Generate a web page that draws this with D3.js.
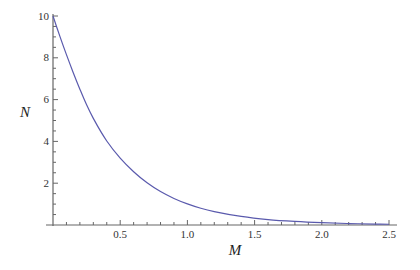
<!DOCTYPE html>
<html>
<head>
<meta charset="utf-8">
<script src="https://cdn.jsdelivr.net/npm/d3@7"></script>
<style>
  body { margin: 0; background: #fff; }
  svg { display: block; }
  text { font-family: "Liberation Serif", "DejaVu Serif", "Times New Roman", serif; }
</style>
</head>
<body>
<div id="chart"></div>
<script>
// values
const mValues = [0, 0.05, 0.1, 0.15, 0.2, 0.25, 0.3, 0.4, 0.5, 0.6, 0.7, 0.8, 0.9, 1.0, 1.1, 1.2, 1.4, 1.6, 1.8, 2.0, 2.2, 2.4, 2.5];
const nValues = [10, 9.05, 8.15, 7.3, 6.5, 5.75, 5.1, 4.02, 3.2, 2.55, 2.02, 1.6, 1.27, 1.01, 0.8, 0.64, 0.41, 0.26, 0.17, 0.11, 0.07, 0.045, 0.035];
const xTicks = [0.5, 1.0, 1.5, 2.0, 2.5];
const yTicks = [2, 4, 6, 8, 10];

const width = 420, height = 270;
const x0 = 53, x1 = 389, y0 = 225, y1 = 16;

const svg = d3.select("#chart")
  .append("svg")
  .attr("width", width)
  .attr("height", height);

const x = d3.scaleLinear().domain([0, 2.5]).range([x0, x1]);
const y = d3.scaleLinear().domain([0, 10]).range([y0, y1]);

const axisColor = "#666";

// x axis: ticks point up into the plot
const xAxis = svg.append("g")
  .attr("transform", "translate(0," + y0 + ")");
xAxis.append("line")
  .attr("x1", 46).attr("x2", 397)
  .attr("stroke", axisColor).attr("stroke-width", 1.2);
xAxis.selectAll(".minor")
  .data(d3.range(1, 26).map(i => i / 10))
  .enter().append("line")
    .attr("x1", d => x(d)).attr("x2", d => x(d))
    .attr("y1", 0)
    .attr("y2", d => xTicks.some(t => Math.abs(t - d) < 1e-6) ? -5 : -3)
    .attr("stroke", axisColor).attr("stroke-width", 1);
xAxis.selectAll(".lab")
  .data(xTicks)
  .enter().append("text")
    .attr("x", d => x(d))
    .attr("y", 13)
    .attr("text-anchor", "middle")
    .attr("font-size", 11)
    .attr("fill", "#333")
    .text(d => d3.format(".1f")(d));

// y axis: ticks point right into the plot
const yAxis = svg.append("g")
  .attr("transform", "translate(" + x0 + ",0)");
yAxis.append("line")
  .attr("y1", 226).attr("y2", 14)
  .attr("stroke", axisColor).attr("stroke-width", 1.2);
yAxis.selectAll(".minor")
  .data(d3.range(1, 21).map(i => i / 2))
  .enter().append("line")
    .attr("y1", d => y(d)).attr("y2", d => y(d))
    .attr("x1", 0)
    .attr("x2", d => d % 2 === 0 ? 5 : 3)
    .attr("stroke", axisColor).attr("stroke-width", 1);
yAxis.selectAll(".lab")
  .data(yTicks)
  .enter().append("text")
    .attr("x", -4)
    .attr("y", d => y(d) + 3.5)
    .attr("text-anchor", "end")
    .attr("font-size", 11)
    .attr("fill", "#333")
    .text(d => d);

// curve
const line = d3.line()
  .x((d, i) => x(mValues[i]))
  .y(d => y(d))
  .curve(d3.curveCatmullRom);
svg.append("path")
  .datum(nValues)
  .attr("d", line)
  .attr("fill", "none")
  .attr("stroke", "#5a5aad")
  .attr("stroke-width", 1.2);

// axis titles
svg.append("text")
  .attr("x", 25).attr("y", 117)
  .attr("text-anchor", "middle")
  .attr("font-style", "italic")
  .attr("font-size", 15)
  .attr("fill", "#222")
  .text("N");
svg.append("text")
  .attr("x", 235).attr("y", 255)
  .attr("text-anchor", "middle")
  .attr("font-style", "italic")
  .attr("font-size", 15)
  .attr("fill", "#222")
  .text("M");
</script>
</body>
</html>
